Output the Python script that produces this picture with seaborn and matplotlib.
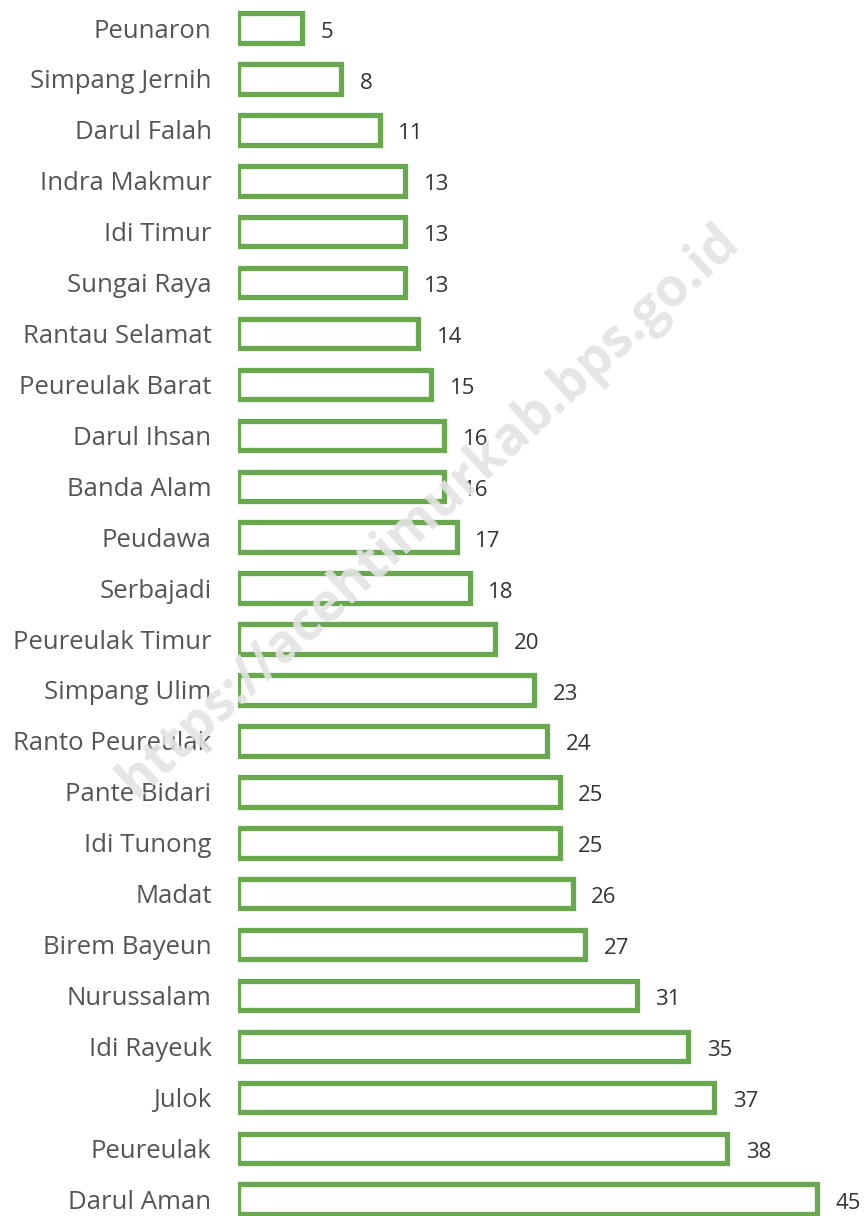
import matplotlib
matplotlib.use("Agg")
import matplotlib.pyplot as plt
import seaborn as sns
import pandas as pd

kecamatan = ["Peunaron", "Simpang Jernih", "Darul Falah", "Indra Makmur", "Idi Timur",
             "Sungai Raya", "Rantau Selamat", "Peureulak Barat", "Darul Ihsan", "Banda Alam",
             "Peudawa", "Serbajadi", "Peureulak Timur", "Simpang Ulim", "Ranto Peureulak",
             "Pante Bidari", "Idi Tunong", "Madat", "Birem Bayeun", "Nurussalam",
             "Idi Rayeuk", "Julok", "Peureulak", "Darul Aman"]
jumlah = [5, 8, 11, 13, 13, 13, 14, 15, 16, 16, 17, 18, 20, 23, 24, 25, 25, 26, 27, 31,
          35, 37, 38, 45]

df = pd.DataFrame({"kecamatan": kecamatan, "jumlah": jumlah})

sns.set_theme(style="white")
plt.rcParams["font.family"] = ["Open Sans", "DejaVu Sans"]

fig = plt.figure(figsize=(8.68, 12.16), dpi=100)
ax = fig.add_axes([238 / 868, 0, 630 / 868, 1])

sns.barplot(data=df, y="kecamatan", x="jumlah", orient="h", ax=ax,
            facecolor="white", edgecolor="#6aa84f", linewidth=3.8, width=0.58)

ax.set_xlim(0, 48.96)
ax.set_ylim(23.33, -0.55)
for s in ax.spines.values():
    s.set_visible(False)
ax.set_xticks([])
ax.set_xlabel("")
ax.set_ylabel("")
ax.tick_params(axis="y", length=0, pad=19, labelsize=18.5, labelcolor="#555555")

for i, v in enumerate(jumlah):
    ax.text(v + 1.45, i + 0.08, str(v), va="center", ha="left", fontsize=16, color="#333333")

fig.text(0.494, 0.58, "https://acehtimurkab.bps.go.id", rotation=42.5, fontsize=38,
         fontweight="bold", color="#e3e3e3", ha="center", va="center", zorder=10, alpha=0.9)

fig.savefig("out.png", dpi=100, facecolor="white")
